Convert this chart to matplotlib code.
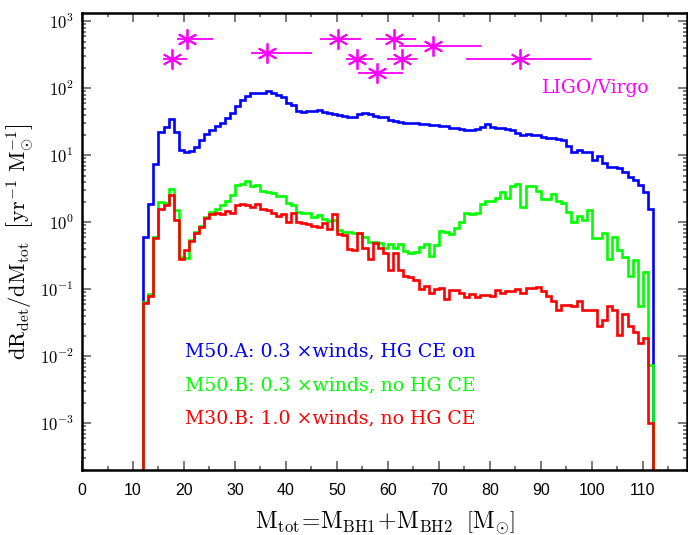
import numpy as np
import matplotlib
matplotlib.use("Agg")
import matplotlib.pyplot as plt
from matplotlib.ticker import MultipleLocator, LogLocator, FuncFormatter, NullFormatter

plt.rcParams['mathtext.fontset'] = 'cm'
plt.rcParams['axes.unicode_minus'] = False

# ---- data ----
mass_edges = np.arange(12, 113)  # 1 Msun bins from 12 to 112

rate_M50A = [0.6, 1.85, 7.5, 22.5, 26.8, 35, 22.5, 12.0, 11.1, 11.7,
             13.5, 16.9, 20.8, 23.9, 27.4, 30.7, 35.6, 42.4, 54.5, 66.9,
             76.8, 86, 84, 86, 92, 86, 79, 75, 61, 56,
             46.4, 44.8, 45.8, 46.4, 47.5, 44.3, 42.4, 41.4, 40, 38.6,
             36.9, 37.7, 41.4, 43.3, 40.9, 38.6, 37.7, 36.9, 33.7, 32.9,
             31.8, 30.7, 30.5, 30, 29.3, 29.3, 28.3, 28.3, 27.4, 27,
             25.9, 25.3, 24.5, 23.9, 23.9, 24.5, 26.2, 29.3, 26.2, 25.9,
             25.3, 25.0, 23.9, 21.3, 20.1, 21.0, 20.1, 20.1, 19, 17.9,
             17.9, 17.4, 16.9, 13.8, 11.3, 12, 11.3, 11.3, 8.5, 9.7,
             7.6, 6.8, 6.6, 6.4, 5.7, 4.8, 4.3, 3.6, 2.8, 1.6]

rate_M50B = [0.065, 0.085, 0.61, 2.0, 1.95, 3.2, 1.53, 0.30, 0.29, 0.54,
             0.72, 0.88, 1.21, 1.44, 1.56, 1.81, 2.1, 2.55, 3.6, 3.73,
             4.2, 3.48, 3.6, 2.96, 2.87, 2.7, 2.47, 2.47, 1.92, 1.81,
             1.44, 1.39, 1.39, 1.21, 1.28, 1.11, 1.05, 1.1, 0.77, 0.72,
             0.72, 0.7, 0.7, 0.61, 0.51, 0.51, 0.5, 0.42, 0.47, 0.41,
             0.48, 0.38, 0.35, 0.36, 0.43, 0.47, 0.31, 0.46, 0.74, 0.71,
             0.66, 0.83, 1.0, 1.36, 1.31, 1.36, 1.85, 2.08, 2.08, 2.28,
             2.8, 2.28, 3.48, 3.73, 1.71, 3.48, 3.48, 2.96, 2.2, 2.2,
             2.64, 2.1, 1.96, 1.44, 1.0, 1.24, 1.08, 1.53, 0.58, 0.58,
             0.7, 0.28, 0.61, 0.39, 0.3, 0.158, 0.27, 0.056, 0.18, 0.0075]

rate_M30B = [0.062, 0.08, 0.58, 1.56, 1.81, 2.55, 1.1, 0.28, 0.386, 0.53,
             0.70, 0.86, 1.15, 1.33, 1.39, 1.33, 1.49, 1.39, 1.81, 1.87,
             1.81, 1.71, 1.87, 1.56, 1.53, 1.39, 1.24, 1.31, 1.02, 1.36,
             1.02, 0.965, 0.93, 0.88, 0.86, 0.965, 0.785, 1.33, 0.67, 0.65,
             0.40, 0.386, 0.685, 0.41, 0.28, 0.50, 0.42, 0.345, 0.194, 0.345,
             0.194, 0.158, 0.154, 0.14, 0.1, 0.114, 0.089, 0.1, 0.103, 0.071,
             0.098, 0.098, 0.087, 0.076, 0.085, 0.078, 0.082, 0.082, 0.08, 0.098,
             0.089, 0.095, 0.095, 0.1, 0.087, 0.103, 0.103, 0.107, 0.095, 0.08,
             0.068, 0.05, 0.058, 0.058, 0.056, 0.068, 0.049, 0.049, 0.049, 0.028,
             0.035, 0.056, 0.05, 0.021, 0.043, 0.028, 0.023, 0.0156, 0.0186, 0.001]

# LIGO/Virgo detections: total mass, lower/upper mass extent, rate value
ligo_mass = [17.7, 20.6, 36.2, 50.3, 54.0, 57.8, 61.2, 62.7, 68.9, 86.0]
ligo_mass_lo = [15.8, 18.7, 33.1, 46.7, 51.8, 54.2, 57.6, 59.9, 62.2, 75.3]
ligo_mass_hi = [20.6, 25.6, 45.2, 54.8, 57.1, 63.0, 65.6, 65.7, 78.2, 99.8]
ligo_rate = [271, 538, 340, 538, 271, 171, 538, 271, 428, 271]

labels = ["M50.A: 0.3 \u00d7winds, HG CE on",
          "M50.B: 0.3 \u00d7winds, no HG CE",
          "M30.B: 1.0 \u00d7winds, no HG CE"]
colors = ["#0000ff", "#00ff00", "#ff0000"]
magenta = "#ff00ff"

# ---- figure ----
fig = plt.figure(figsize=(6.88, 5.35), dpi=100)
ax = fig.add_axes([0.1192, 0.1206, 0.8789, 0.8546])
ax.set_yscale('log')

for vals, c in zip([rate_M50A, rate_M50B, rate_M30B], colors):
    ax.stairs(vals, mass_edges, baseline=1e-8, fill=False, color=c, lw=1.9)

lo = np.array(ligo_mass) - np.array(ligo_mass_lo)
hi = np.array(ligo_mass_hi) - np.array(ligo_mass)
ax.errorbar(ligo_mass, ligo_rate, xerr=[lo, hi], fmt='none', ecolor=magenta,
            elinewidth=1.3, capsize=0)
ax.plot(ligo_mass, ligo_rate, linestyle='none', marker=(6, 2, 0), markersize=14.5,
        markeredgewidth=1.3, color=magenta)

ax.set_xlim(0, 118.6)
ax.set_ylim(1.98e-4, 1.32e3)

ax.xaxis.set_major_locator(MultipleLocator(10))
ax.xaxis.set_minor_locator(MultipleLocator(5))
ax.yaxis.set_major_locator(LogLocator(base=10, numticks=20))
ax.yaxis.set_minor_locator(LogLocator(base=10, subs=np.arange(2, 10), numticks=20))
ax.yaxis.set_minor_formatter(NullFormatter())
ax.yaxis.set_major_formatter(FuncFormatter(lambda v, p: r'$\mathsf{10^{%d}}$' % int(round(np.log10(v)))))

ax.tick_params(which='both', direction='in', top=True, right=True, color='#555555', width=1.1)
ax.tick_params(which='major', length=6.5)
ax.tick_params(which='minor', length=3.2)
ax.tick_params(axis='x', which='major', pad=9, labelsize=11.5)
ax.tick_params(axis='y', which='major', pad=6, labelsize=12)
for lab in ax.get_xticklabels():
    lab.set_family('Liberation Sans')
for sp in ax.spines.values():
    sp.set_linewidth(1.8)

# model labels
ys = [0.2489, 0.1761, 0.1032]
for lab, c, y in zip(labels, colors, ys):
    ax.text(0.1703, y, lab, color=c, transform=ax.transAxes, fontsize=13.6,
            family='DejaVu Serif', va='baseline', ha='left')
ax.text(0.7602, 0.825, "LIGO/Virgo", color=magenta, transform=ax.transAxes,
        fontsize=13.5, family='DejaVu Serif', va='baseline', ha='left')

fig.text(0.029, 0.5477, r'$\mathrm{dR_{det}/dM_{tot}\ \ \left[yr^{-1}\ M_{\odot}^{-1}\right]}$',
         rotation=90, ha='center', va='center', fontsize=16)
fig.text(0.5596, 0.0114, r'$\mathrm{M_{tot}\!=\!M_{BH1}\!+\!M_{BH2}\ \ \left[M_{\odot}\right]}$',
         ha='center', va='baseline', fontsize=17)

fig.savefig("out.png", dpi=100)
